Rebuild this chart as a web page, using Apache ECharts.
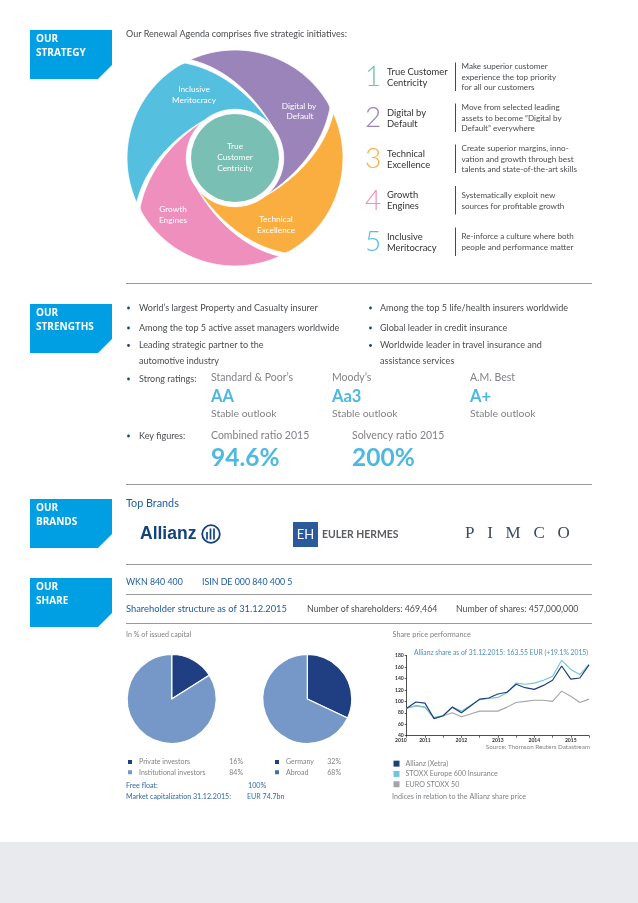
<!DOCTYPE html>
<html lang="en">
<head>
  <meta charset="UTF-8">
  <title>Allianz at a glance</title>
  <script src="https://cdn.jsdelivr.net/npm/echarts@6/dist/echarts.min.js"></script>
  <style>
    html, body { margin: 0; padding: 0; background: #fff; }
    #chart { width: 638px; height: 903px; }
  </style>
</head>
<body>
  <div id="chart"></div>
  <script>
    // share price, one point per quarter
    const quarters = ['2010','','2011','','','','2012','','','','2013','','','','2014','','','','2015','',''];
    const allianzXetra = [88,99,97,70,75,90,80,92,104,106,113,116,130,124,121,128,137,162,139,141,164];
    const stoxxInsurance = [88,93,90,72,75,90,83,93,103,105,107,115,132,130,132,137,144,172,156,147,165];
    const euroStoxx = [88,92,90,70,75,80,73,78,83,83,83,90,98,100,102,102,100,118,109,98,104];

    // shareholder structure in %
    const investorNames = ['Private investors','Institutional investors'];
    const investorValues = [16,84];
    const regionNames = ['Germany','Abroad'];
    const regionValues = [32,68];

    const FONT = 'Lato, "Open Sans", sans-serif';
    const DARK = '#1f3f82', LIGHT = '#7598c8', SKY = '#4db8e0', GREY = '#808285', TEXT = '#4a4c4f', LINK = '#2f6aa5';

    const els = [];
    function txt(x, y, text, size, color, extra) {
      els.push({ type: 'text', x: x, y: y, silent: true, style: Object.assign({
        text: text, fontSize: size, fill: color, fontFamily: FONT, verticalAlign: 'middle', align: 'left'
      }, extra || {}) });
    }
    function rule(y) {
      els.push({ type: 'line', silent: true, shape: { x1: 126, y1: y, x2: 592, y2: y }, style: { stroke: '#97999b', lineWidth: 1 } });
    }
    function tag(y, a, b) {
      els.push({ type: 'polygon', silent: true, shape: { points: [[30,y],[112,y],[112,y+35],[98,y+49],[30,y+49]] }, style: { fill: '#009fe3' } });
      txt(36, y + 9, a, 10, '#fff', { fontWeight: 'bold', fontFamily: '"Open Sans", sans-serif' });
      txt(36, y + 23, b, 10, '#fff', { fontWeight: 'bold', fontFamily: '"Open Sans", sans-serif' });
    }
    function bullet(x, y) {
      els.push({ type: 'circle', silent: true, shape: { cx: x, cy: y, r: 1.4 }, style: { fill: DARK } });
    }

    // footer band
    els.push({ type: 'rect', silent: true, shape: { x: 0, y: 842, width: 638, height: 61 }, style: { fill: '#e8eaed' } });

    tag(30, 'OUR', 'STRATEGY');
    tag(304, 'OUR', 'STRENGTHS');
    tag(499, 'OUR', 'BRANDS');
    tag(578, 'OUR', 'SHARE');
    [283.5, 484.5, 564.5, 594.5, 623.5].forEach(rule);

    // swirl: one blade outline turned four times around the centre
    const CX = 235, CY = 158;
    function cubic(a, b, c, d, t) {
      const u = 1 - t;
      return [0, 1].map(k => u*u*u*a[k] + 3*u*u*t*b[k] + 3*u*t*t*c[k] + t*t*t*d[k]);
    }
    function arc(r, a0, a1, t) {
      const a = a0 + (a1 - a0) * t;
      return [r * Math.cos(a), r * Math.sin(a)];
    }
    function blade(turn) {
      const pts = [];
      const A = [-45,-98.3], B = [95,-50], C = [30,38.3], D = [38.3,-30];
      const n = 40;
      const aA = Math.atan2(A[1], A[0]), aB = Math.atan2(B[1], B[0]);
      const aC = Math.atan2(C[1], C[0]), aD = Math.atan2(D[1], D[0]);
      for (let i = 0; i < n; i++) pts.push(arc(108, aA, aB, i / n));
      for (let i = 0; i < n; i++) pts.push(cubic(B, [88,-15], [65,15], C, i / n));
      for (let i = 0; i < n; i++) pts.push(arc(48.7, aC, aD, i / n));
      for (let i = 0; i < n; i++) pts.push(cubic(D, [17,-67], [-13,-91], A, i / n));
      const c = [[1,0],[0,1],[-1,0],[0,-1]][turn];
      return pts.map(p => [CX + p[0] * c[0] - p[1] * c[1], CY + p[0] * c[1] + p[1] * c[0]]);
    }
    ['#9a84ba','#fbae40','#ef8fbd','#55bfe0'].forEach((c, i) => {
      els.push({ type: 'polygon', silent: true, shape: { points: blade(i) }, style: { fill: c, stroke: '#fff', lineWidth: 0.8 } });
    });
    els.push({ type: 'circle', silent: true, shape: { cx: CX, cy: CY, r: 44 }, style: { fill: '#79bfb3' } });
    const mid = { align: 'center' };
    [[194,89,'Inclusive'],[194,100,'Meritocracy'],[299,106,'Digital by'],[300,116,'Default'],
     [235,146,'True'],[235,157,'Customer'],[235,168,'Centricity'],
     [276,219,'Technical'],[276,230,'Excellence'],[173,209,'Growth'],[173,220,'Engines']
    ].forEach(t => txt(t[0], t[1], t[2], 8.3, '#fff', mid));

    txt(126, 34, 'Our Renewal Agenda comprises five strategic initiatives:', 9, TEXT);

    // initiative list
    const listColors = ['#79bfb3','#9a84ba','#fbae40','#ef8fbd','#55bfe0'];
    const listTitles = [['True Customer','Centricity'],['Digital by','Default'],['Technical','Excellence'],['Growth','Engines'],['Inclusive','Meritocracy']];
    const listText = [
      ['Make superior customer','experience the top priority','for all our customers'],
      ['Move from selected leading','assets to become \u201cDigital by','Default\u201d everywhere'],
      ['Create superior margins, inno-','vation and growth through best','talents and state-of-the-art skills'],
      ['Systematically exploit new','sources for profitable growth'],
      ['Re-inforce a culture where both','people and performance matter']
    ];
    const listY = [77, 118, 159, 200.5, 242];
    listY.forEach((y, i) => {
      txt(373, y, String(i + 1), 28, listColors[i], { align: 'center', fontWeight: 300 });
      txt(387, y - 5.5, listTitles[i][0], 9.4, '#333');
      txt(387, y + 5.5, listTitles[i][1], 9.4, '#333');
      els.push({ type: 'line', silent: true, shape: { x1: 455.5, y1: y - 14.5, x2: 455.5, y2: y + 14 }, style: { stroke: '#333', lineWidth: 0.9 } });
      const n = listText[i].length;
      listText[i].forEach((s, k) => txt(461.5, y + (k - (n - 1) / 2) * 10.8, s, 8.1, TEXT));
    });

    // strengths
    [[308,'World\u2019s largest Property and Casualty insurer'],[328,'Among the top 5 active asset managers worldwide'],
     [345.5,'Leading strategic partner to the'],[361,'automotive industry'],[379,'Strong ratings:'],[436,'Key figures:']
    ].forEach(t => { if (t[0] !== 361) bullet(128.5, t[0]); txt(139, t[0], t[1], 9.05, TEXT); });
    [[308,'Among the top 5 life/health insurers worldwide'],[328,'Global leader in credit insurance'],
     [345.5,'Worldwide leader in travel insurance and'],[361,'assistance services']
    ].forEach(t => { if (t[0] !== 361) bullet(370.5, t[0]); txt(380, t[0], t[1], 9.05, TEXT); });

    [[211,'Standard & Poor\u2019s','AA'],[332,'Moody\u2019s','Aa3'],[470,'A.M. Best','A+']].forEach(r => {
      txt(r[0], 378, r[1], 10.5, GREY);
      txt(r[0], 397, r[2], 16.5, SKY, { fontWeight: 'bold' });
      txt(r[0], 414, 'Stable outlook', 10.4, GREY);
    });
    [[211,'Combined ratio 2015','94.6%'],[352,'Solvency ratio 2015','200%']].forEach(r => {
      txt(r[0], 436, r[1], 10.5, GREY);
      txt(r[0], 458, r[2], 24.5, SKY, { fontWeight: 'bold' });
    });

    // brands
    txt(126, 504, 'Top Brands', 10.8, '#1d5a9e');
    txt(140, 534, 'Allianz', 17.5, '#13437f', { fontWeight: 'bold', fontFamily: '"Liberation Sans", sans-serif' });
    els.push({ type: 'circle', silent: true, shape: { cx: 211, cy: 534, r: 8.8 }, style: { fill: 'none', stroke: '#13437f', lineWidth: 1.8 } });
    [[207,3],[210.5,6.5],[214,6.5]].forEach(b => {
      els.push({ type: 'line', silent: true, shape: { x1: b[0], y1: 534 - b[1] + 1, x2: b[0], y2: 539.5 }, style: { stroke: '#13437f', lineWidth: 1.7 } });
    });
    els.push({ type: 'rect', silent: true, shape: { x: 293, y: 522, width: 25, height: 25 }, style: { fill: '#2a5a9c' } });
    txt(305.5, 535, 'EH', 13, '#fff', { align: 'center' });
    txt(322, 535, 'EULER HERMES', 10.4, '#5a5c60', { fontWeight: 'bold' });
    txt(465, 534, 'P   I   M   C   O', 17, '#3c4a5c', { fontFamily: '"Liberation Serif", serif' });

    // share
    txt(126, 582, 'WKN 840 400', 8.8, '#1d5a9e');
    txt(202, 582, 'ISIN DE 000 840 400 5', 8.8, '#1d5a9e');
    txt(126, 609, 'Shareholder structure as of 31.12.2015', 9.35, '#1d5a9e');
    txt(307, 609, 'Number of shareholders: 469,464', 8.8, TEXT);
    txt(456, 609, 'Number of shares: 457,000,000', 8.75, TEXT);

    txt(126, 635, 'In % of issued capital', 7.1, GREY);
    txt(126, 786, 'Free float:', 7.2, LINK);
    txt(248, 786, '100%', 7.2, LINK);
    txt(126, 797, 'Market capitalization 31.12.2015:', 7.1, LINK);
    txt(247, 797, 'EUR 74.7bn', 7.1, LINK);

    txt(392.5, 635, 'Share price performance', 7.3, GREY);
    txt(414, 653, 'Allianz share as of 31.12.2015: 163.55 EUR (+19.1% 2015)', 6.75, '#4f8fb8');
    txt(590, 746.5, 'Source: Thomson Reuters Datastream', 6.3, GREY, { align: 'right' });
    txt(392, 797, 'Indices in relation to the Allianz share price', 7.15, GREY);

    function pie(name, names, values, center) {
      return {
        name: name, type: 'pie', radius: 44.5, center: center, startAngle: 90, clockwise: true,
        silent: true, label: { show: false }, labelLine: { show: false },
        itemStyle: { borderColor: '#fff', borderWidth: 1.2 },
        data: names.map((n, i) => ({ name: n, value: values[i], itemStyle: { color: i === 0 ? DARK : LIGHT } }))
      };
    }
    function pieLegend(names, values, left, nameW, swatches) {
      return {
        orient: 'vertical', left: left, top: 757, itemWidth: 6, itemHeight: 6, itemGap: 0, padding: 0, icon: 'rect',
        selectedMode: false,
        data: names.map((n, i) => ({ name: n, itemStyle: { color: swatches[i] } })),
        formatter: n => '{a|' + n + '}{b|' + values[names.indexOf(n)] + '%}',
        textStyle: { fontFamily: FONT, fontSize: 7, color: GREY, lineHeight: 10.2, padding: [0,0,0,1],
          rich: {
            a: { width: nameW, fontFamily: FONT, fontSize: 7, color: GREY, lineHeight: 10.2 },
            b: { width: nameW === 92 ? 12 : 14, align: 'right', fontFamily: FONT, fontSize: 7, color: GREY, lineHeight: 10.2 }
          } }
      };
    }

    const chart = echarts.init(document.getElementById('chart'), null, { renderer: 'canvas' });
    chart.setOption({
      animation: false,
      backgroundColor: '#fff',
      legend: [
        pieLegend(investorNames, investorValues, 126, 92, [DARK, LIGHT]),
        pieLegend(regionNames, regionValues, 273, 41, [DARK, '#3f6fb0']),
        {
          orient: 'vertical', left: 393.5, top: 758.5, itemWidth: 6, itemHeight: 6, itemGap: 0, padding: 0, icon: 'rect',
          selectedMode: false,
          data: ['Allianz (Xetra)','STOXX Europe 600 Insurance','EURO STOXX 50'],
          textStyle: { fontFamily: FONT, fontSize: 7.1, color: GREY, lineHeight: 10.3, padding: [0,0,0,1] }
        }
      ],
      grid: { left: 406.7, right: 49, top: 655.7, bottom: 167.3 },
      xAxis: {
        type: 'category', boundaryGap: false, data: quarters,
        axisLine: { lineStyle: { color: '#222', width: 0.8 } },
        axisTick: { length: 2, inside: false, interval: i => i % 2 === 0, lineStyle: { color: '#222', width: 0.7 } },
        axisLabel: { interval: 0, margin: 2, fontSize: 5, fontWeight: 'bold', color: '#333', fontFamily: FONT, alignMinLabel: 'right' }
      },
      yAxis: {
        type: 'value', min: 40, max: 180, interval: 20,
        splitLine: { show: false },
        axisLine: { show: true, lineStyle: { color: '#222', width: 0.8 } },
        axisTick: { show: true, length: 2, lineStyle: { color: '#222', width: 0.7 } },
        axisLabel: { margin: 3, fontSize: 5, fontWeight: 'bold', color: '#333', fontFamily: FONT }
      },
      series: [
        { name: 'EURO STOXX 50', type: 'line', data: euroStoxx, showSymbol: false, silent: true, color: '#a3a5a7', lineStyle: { width: 1.1, color: '#a3a5a7' } },
        { name: 'STOXX Europe 600 Insurance', type: 'line', data: stoxxInsurance, showSymbol: false, silent: true, color: '#6ec6de', lineStyle: { width: 1.1, color: '#6ec6de' } },
        { name: 'Allianz (Xetra)', type: 'line', data: allianzXetra, showSymbol: false, silent: true, color: '#1f3f7a', lineStyle: { width: 1.2, color: '#1f3f7a' } },
        pie('Investors', investorNames, investorValues, [171.7, 699]),
        pie('Regions', regionNames, regionValues, [307.3, 699])
      ],
      graphic: { elements: els }
    });
    window.addEventListener('resize', () => chart.resize());
  </script>
</body>
</html>
